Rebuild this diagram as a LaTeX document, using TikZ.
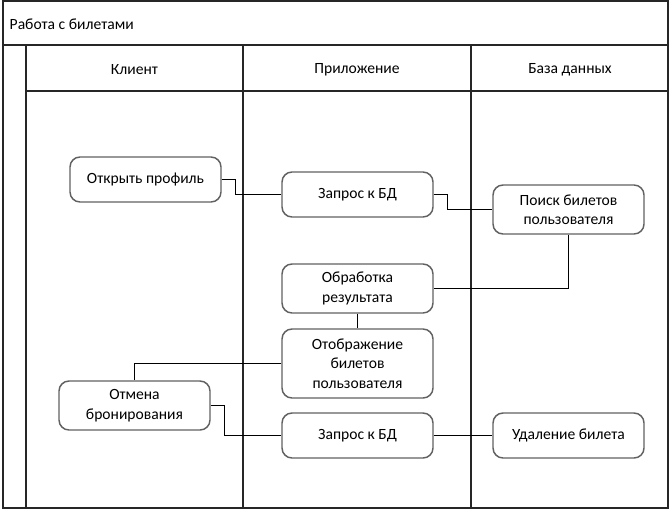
\documentclass[tikz,border=0pt]{standalone}
\usepackage{fontspec}
\setmainfont{Carlito}
\usetikzlibrary{positioning, calc}

\tikzset{
	lane/.style={draw=black!85, line width=0.9pt},
	box/.style={draw=black!62, line width=1.1pt, rounded corners=7.5pt, fill=white,
		minimum width=113.25pt, minimum height=33.75pt, inner sep=0pt,
		align=center, font=\fontsize{11.7pt}{14.6pt}\selectfont},
	wire/.style={draw=black, line width=0.8pt},
	head/.style={font=\fontsize{11.7pt}{14pt}\selectfont}
}

\begin{document}
\begin{tikzpicture}[x=0.75pt, y=-0.75pt]
\useasboundingbox (0, 0) rectangle (671, 510);
% pool and lanes
\draw[lane] (3, 1) rectangle (668, 508);
\draw[lane] (3, 45) -- (668, 45)
	(26, 45) -- (26, 508)
	(26, 91) -- (668, 91)
	(243, 45) -- (243, 508)
	(471, 45) -- (471, 508);
\node[head, anchor=west] (pool) at (5, 24) {Работа с билетами};
\node[head] (lclient) at (134.5, 70) {Клиент};
\node[head] (lapp) at (357, 70) {Приложение};
\node[head] (ldb) at (570, 70) {База данных};

% steps
\node[box] (open) at (145.5, 179.5) {Открыть профиль};
\node[box] (query1) at (357.5, 194.5) {Запрос к БД};
\node[box, minimum height=36.75pt] (search) at (568.5, 209.5) {Поиск билетов\\пользователя};
\node[box, minimum height=36.75pt] (proc) at (357.5, 288.5) {Обработка\\результата};
\node[box, minimum height=51.75pt] (show) at (357.5, 363.5) {Отображение\\билетов\\пользователя};
\node[box, minimum height=36.75pt] (cancel) at (134.5, 405.5) {Отмена\\бронирования};
\node[box] (query2) at (357.5, 435.5) {Запрос к БД};
\node[box] (del) at (568.5, 435.5) {Удаление билета};

% flow
\draw[wire] (open.east) -- ++(14, 0) |- (query1.west);
\draw[wire] (query1.east) -- ++(14, 0) |- (search.west);
\draw[wire] (search.south) |- (proc.east);
\draw[wire] (proc.south) -- (show.north);
\draw[wire] (show.west) -| (cancel.north);
\draw[wire] (cancel.east) -- ++(14, 0) |- (query2.west);
\draw[wire] (query2.east) -- (del.west);
\end{tikzpicture}
\end{document}
